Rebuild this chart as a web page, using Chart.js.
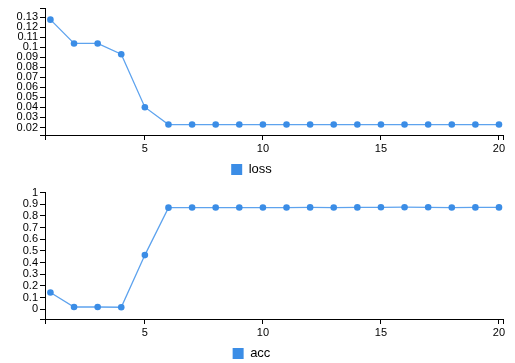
<!DOCTYPE html>
<html>
<head>
<meta charset="utf-8">
<script src="https://cdn.jsdelivr.net/npm/chart.js@4"></script>
<style>
  html, body { margin: 0; padding: 0; background: #fff; overflow: hidden; }
  .box { position: absolute; left: 0; width: 515px; height: 186px; }
</style>
</head>
<body>
<div class="box" style="top:0"><canvas id="graficoLoss"></canvas></div>
<div class="box" style="top:184px"><canvas id="graficoAcc"></canvas></div>
<script>
// --- DADOS ---
const epocas = [1, 2, 3, 4, 5, 6, 7, 8, 9, 10, 11, 12, 13, 14, 15, 16, 17, 18, 19, 20];
const valoresLoss = [0.1274, 0.1037, 0.1037, 0.093, 0.0402, 0.0229, 0.0229, 0.0229, 0.0229, 0.0229,
    0.0229, 0.0229, 0.0229, 0.0229, 0.0229, 0.0229, 0.0229, 0.0229, 0.0229, 0.0229];
const valoresAcc = [0.143, 0.019, 0.019, 0.017, 0.464, 0.871, 0.872, 0.872, 0.872, 0.872,
    0.872, 0.873, 0.872, 0.873, 0.874, 0.875, 0.874, 0.872, 0.873, 0.873];
const ticksX = [5, 10, 15, 20];
const ticksLoss = [0.02, 0.03, 0.04, 0.05, 0.06, 0.07, 0.08, 0.09, 0.1, 0.11, 0.12, 0.13];
const ticksAcc = [0, 0.1, 0.2, 0.3, 0.4, 0.5, 0.6, 0.7, 0.8, 0.9, 1];

const COR_LINHA = '#5ea3ee';
const COR_PONTO = '#3b8de6';
const FONTE = '"Liberation Sans", Arial, Helvetica, sans-serif';

// eixo no estilo vega: ticks para fora, tick extra nas pontas
function eixo(min, max, valores, extra) {
    return Object.assign({
        type: 'linear',
        min: min,
        max: max,
        border: { display: true, color: '#000', width: 1 },
        grid: { display: true, drawOnChartArea: false, drawTicks: true, tickLength: 5, color: '#000', tickWidth: 1 },
        afterBuildTicks: scale => {
            const lista = valores.slice();
            if (!lista.includes(min)) lista.unshift(min);
            if (!lista.includes(max)) lista.push(max);
            scale.ticks = lista.map(v => ({ value: v }));
        },
        ticks: {
            autoSkip: false,
            maxRotation: 0,
            padding: 2,
            color: '#000',
            font: { family: FONTE, size: 11 },
            callback: v => valores.includes(v) ? String(Number(v.toFixed(2))) : ''
        }
    }, extra);
}

function criarGrafico(id, label, valores, yMin, yMax, yTicks) {
    const ctx = document.getElementById(id).getContext('2d');
    return new Chart(ctx, {
        type: 'line',
        data: {
            datasets: [{
                label: label,
                data: epocas.map((e, i) => ({ x: e, y: valores[i] })),
                borderColor: COR_LINHA,
                backgroundColor: COR_PONTO,
                borderWidth: 1.3,
                tension: 0,
                fill: false,
                pointRadius: 3.3,
                pointBorderWidth: 0,
                pointBackgroundColor: COR_PONTO
            }]
        },
        options: {
            responsive: true,
            maintainAspectRatio: false,
            animation: false,
            layout: { padding: { top: 6, right: 12, left: 0, bottom: 0 } },
            plugins: {
                tooltip: { enabled: false },
                legend: {
                    position: 'bottom',
                    labels: {
                        boxWidth: 11,
                        boxHeight: 11,
                        padding: 10,
                        color: '#000',
                        font: { family: FONTE, size: 13 },
                        generateLabels: chart => [{
                            text: label,
                            fillStyle: COR_PONTO,
                            strokeStyle: COR_PONTO,
                            lineWidth: 0,
                            datasetIndex: 0
                        }]
                    }
                }
            },
            scales: {
                x: eixo(0.77, 20.17, ticksX, { afterFit: s => { s.height = 18; } }),
                y: eixo(yMin, yMax, yTicks, { afterFit: s => { s.width = 45; } })
            }
        }
    });
}

criarGrafico('graficoLoss', 'loss', valoresLoss, 0.0125, 0.1384, ticksLoss);
criarGrafico('graficoAcc', 'acc', valoresAcc, -0.084, 1.0, ticksAcc);
</script>
</body>
</html>
